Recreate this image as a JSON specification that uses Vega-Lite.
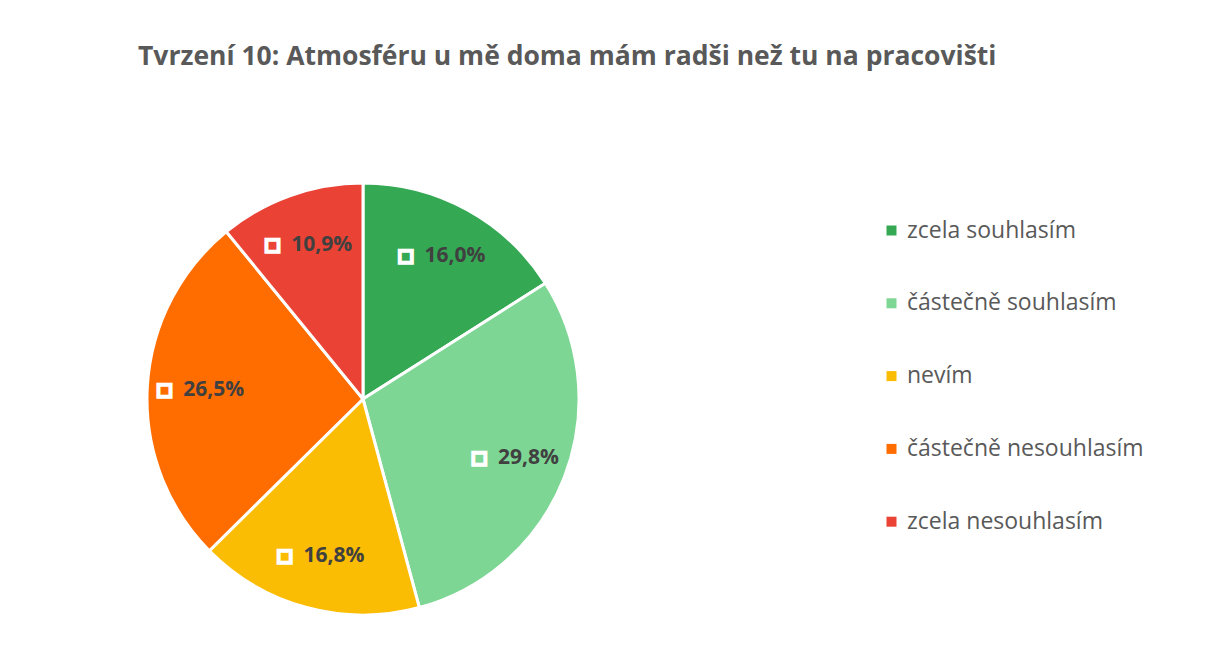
{
  "$schema": "https://vega.github.io/schema/vega-lite/v6.json",
  "width": 712,
  "height": 500,
  "autosize": {"type": "none"},
  "padding": {"left": 7, "top": 149, "right": 510, "bottom": 3},
  "background": "white",
  "title": {
    "text": "Tvrzení 10: Atmosféru u mě doma mám radši než tu na pracovišti",
    "anchor": "start",
    "frame": "group",
    "dx": 131,
    "offset": 58,
    "baseline": "alphabetic",
    "font": "Open Sans",
    "fontSize": 26.5,
    "fontWeight": "bold",
    "color": "#595959"
  },
  "data": {
    "values": [
      {"kategorie": "zcela souhlasím", "podil": 16.0, "popisek": "16,0%", "poradi": 1},
      {"kategorie": "částečně souhlasím", "podil": 29.8, "popisek": "29,8%", "poradi": 2},
      {"kategorie": "nevím", "podil": 16.8, "popisek": "16,8%", "poradi": 3},
      {"kategorie": "částečně nesouhlasím", "podil": 26.5, "popisek": "26,5%", "poradi": 4},
      {"kategorie": "zcela nesouhlasím", "podil": 10.9, "popisek": "10,9%", "poradi": 5}
    ]
  },
  "encoding": {
    "theta": {"field": "podil", "type": "quantitative", "stack": true},
    "order": {"field": "poradi", "type": "quantitative"}
  },
  "layer": [
    {
      "mark": {"type": "arc", "outerRadius": 216, "stroke": "white", "strokeWidth": 3},
      "encoding": {
        "color": {
          "field": "kategorie",
          "type": "nominal",
          "sort": null,
          "scale": {
            "domain": ["zcela souhlasím", "částečně souhlasím", "nevím", "částečně nesouhlasím", "zcela nesouhlasím"],
            "range": ["#34A853", "#7DD694", "#FBBC04", "#FF6D01", "#EA4335"]
          },
          "legend": {
            "orient": "none",
            "legendX": 873,
            "legendY": 70,
            "title": null,
            "symbolType": "square",
            "symbolSize": 100,
            "symbolStrokeWidth": 0,
            "labelFont": "Open Sans",
            "labelFontSize": 23,
            "labelColor": "#595959",
            "labelOffset": 4,
            "labelLimit": 400,
            "rowPadding": 48.8,
            "padding": 0
          }
        }
      }
    },
    {
      "mark": {"type": "text", "text": "■", "radius": 163, "dx": -36, "fontSize": 25, "fillOpacity": 0, "stroke": "white", "strokeWidth": 4, "align": "center", "baseline": "middle"}
    },
    {
      "mark": {"type": "text", "radius": 163, "dx": -17, "align": "left", "baseline": "middle", "font": "Open Sans", "fontSize": 21, "fontWeight": "bold", "fill": "#404040"},
      "encoding": {
        "text": {"field": "popisek", "type": "nominal"}
      }
    }
  ],
  "config": {"view": {"stroke": null}}
}
